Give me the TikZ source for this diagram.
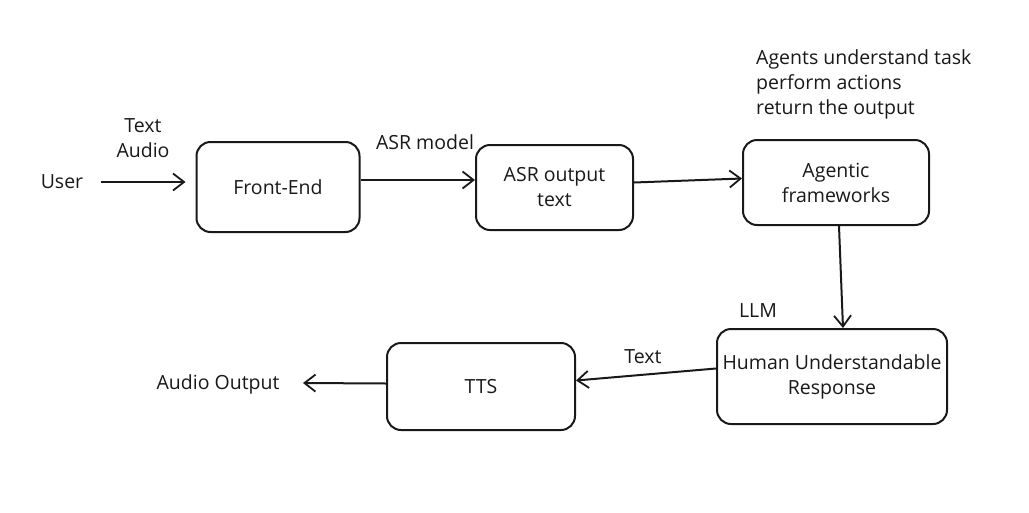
\documentclass[tikz,border=0pt]{standalone}
\usepackage{fontspec}
\setmainfont{Open Sans}
\usetikzlibrary{arrows.meta}
\begin{document}
\begin{tikzpicture}[x=1pt,y=-1pt,
  every node/.style={font=\fontsize{19.5}{25}\selectfont, text=black!90},
  box/.style={draw=black!90, line width=2pt, rounded corners=14pt, align=center, inner sep=0pt},
  lbl/.style={align=center, inner sep=1pt},
  arr/.style={draw=black!90, line width=2pt, -{Straight Barb[length=11pt,width=17pt,line width=1.8pt]}}]
\useasboundingbox[fill=white] (0,0) rectangle (1029,512);
% boxes
\node[box, minimum width=163pt, minimum height=90pt] (fe) at (278,187) {Front-End};
\node[box, minimum width=157pt, minimum height=85pt] (asr) at (554.5,187.5) {ASR output\\text};
\node[box, minimum width=186pt, minimum height=85pt] (ag) at (836,182.5) {Agentic\\frameworks};
\node[box, minimum width=230pt, minimum height=95pt] (hur) at (832,376.5) {Human Understandable\\Response};
\node[box, minimum width=188pt, minimum height=87pt] (tts) at (481,386.5) {TTS};
% labels
\node[lbl] (user) at (62,182) {User};
\node[lbl] (ta) at (143,138) {Text\\Audio};
\node[lbl] (asrm) at (425,142) {ASR model};
\node[lbl, align=left, anchor=west] (agents) at (755,84) {Agents understand task\\perform actions\\return the output};
\node[lbl] (llm) at (758,311) {LLM};
\node[lbl] (txt) at (643,357) {Text};
\node[lbl] (ao) at (218,384) {Audio Output};
\coordinate (aoend) at (303,383);
% connectors
\draw[arr, shorten >=10pt] ([xshift=17pt]user.east) -- (fe.west |- user.east);
\draw[arr] (fe.east |- 0,180) -- (asr.west |- 0,180);
\draw[arr] ([yshift=5pt]asr.east) -- ([yshift=4pt]ag.west);
\draw[arr] ([xshift=3pt]ag.south) -- ([xshift=11pt]hur.north);
\draw[arr] ([yshift=8pt]hur.west) -- ([yshift=6pt]tts.east);
\draw[arr] ([yshift=3pt]tts.west) -- (aoend);
\end{tikzpicture}
\end{document}
